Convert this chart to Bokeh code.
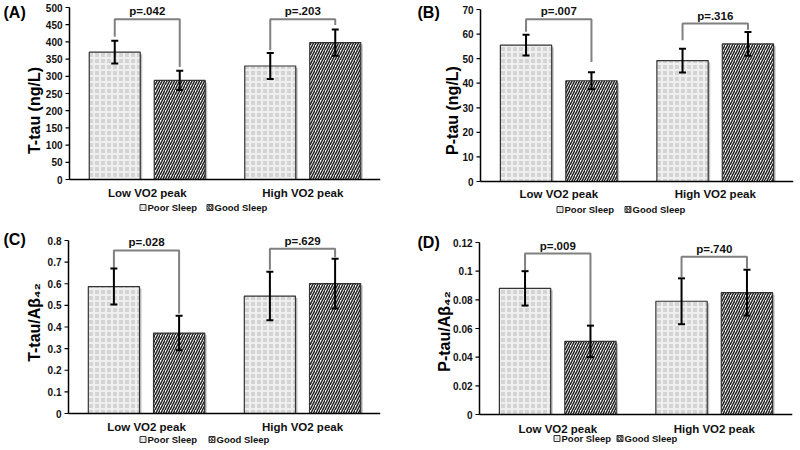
import math
from bokeh.plotting import figure
from bokeh.models import (Range1d, Whisker, TeeHead, ColumnDataSource, Label, Span)
from bokeh.core.properties import value
from bokeh.layouts import column, row
from bokeh.embed import file_html
from bokeh.resources import INLINE

categories = ["Low VO2 peak", "High VO2 peak"]
groups = ["Poor Sleep", "Good Sleep"]

# Panel A: T-tau
a_poor = [370, 330]
a_good = [288, 398]
a_poor_err = [33, 38]
a_good_err = [28, 38]
a_pvals = ["p=.042", "p=.203"]
a_bracket_top = [466, 466]
a_bracket_left = [415, 376]
a_bracket_right = [327, 449]
a_ticks = [0, 50, 100, 150, 200, 250, 300, 350, 400, 450, 500]
a_tick_labels = ["0", "50", "100", "150", "200", "250", "300", "350", "400", "450", "500"]

# Panel B: P-tau
b_poor = [55.5, 49.2]
b_good = [41.0, 56.0]
b_poor_err = [4.2, 4.8]
b_good_err = [3.5, 4.8]
b_pvals = ["p=.007", "p=.316"]
b_bracket_top = [66.0, 64.3]
b_bracket_left = [60.9, 57.5]
b_bracket_right = [48.6, 61.8]
b_ticks = [0, 10, 20, 30, 40, 50, 60, 70]
b_tick_labels = ["0", "10", "20", "30", "40", "50", "60", "70"]

# Panel C: T-tau/Abeta42
c_poor = [0.587, 0.543]
c_good = [0.372, 0.601]
c_poor_err = [0.083, 0.112]
c_good_err = [0.080, 0.115]
c_pvals = ["p=.028", "p=.629"]
c_bracket_top = [0.754, 0.762]
c_bracket_left = [0.672, 0.665]
c_bracket_right = [0.462, 0.723]
c_ticks = [0, 0.1, 0.2, 0.3, 0.4, 0.5, 0.6, 0.7, 0.8]
c_tick_labels = ["0", "0.1", "0.2", "0.3", "0.4", "0.5", "0.6", "0.7", "0.8"]

# Panel D: P-tau/Abeta42
d_poor = [0.088, 0.079]
d_good = [0.051, 0.085]
d_poor_err = [0.012, 0.016]
d_good_err = [0.011, 0.016]
d_pvals = ["p=.009", "p=.740"]
d_bracket_top = [0.1123, 0.110]
d_bracket_left = [0.1007, 0.096]
d_bracket_right = [0.0622, 0.1018]
d_ticks = [0, 0.02, 0.04, 0.06, 0.08, 0.1, 0.12]
d_tick_labels = ["0", "0.02", "0.04", "0.06", "0.08", "0.1", "0.12"]

FONT = "Liberation Sans"
BAR_W = 0.328
OFF = 0.209
W, H = 400, 225

POOR_STYLE = dict(fill_color="#d4d4d4", line_color="#333333", line_width=1.2,
                  hatch_pattern="cross", hatch_color="#efefef", hatch_scale=6,
                  hatch_weight=2)
GOOD_STYLE = dict(fill_color="white", line_color="#333333", line_width=1.2,
                  hatch_pattern="right_diagonal_line", hatch_color="#222222",
                  hatch_scale=5, hatch_weight=1.5)


def make_panel(letter, poor, good, poor_err, good_err, pvals, btop, bleft, bright,
               ticks, tick_labels, ylabel, lay):
    left, right, top, zero = lay["left"], lay["right"], lay["top"], lay["zero"]
    ymax = ticks[-1]
    ppu = (zero - top) / ymax          # pixels per y data unit
    ystart = -(H - zero) / ppu         # frame reaches canvas bottom
    yend = ymax + top / ppu            # frame reaches canvas top
    xpu = (right - left) / 2.0         # pixels per x unit
    xstart = -left / xpu               # frame reaches canvas left edge

    p = figure(width=W, height=H, title=None, x_axis_type=None, y_axis_type=None,
               x_range=Range1d(xstart, 2), y_range=Range1d(ystart, yend),
               output_backend="svg", toolbar_location=None,
               min_border_left=0, min_border_right=W - right,
               min_border_top=0, min_border_bottom=0)
    p.outline_line_color = None

    centers = [i + 0.5 for i in range(len(categories))]
    xp = [c - OFF for c in centers]
    xg = [c + OFF for c in centers]

    src_p = ColumnDataSource(dict(x=xp, top=poor,
                                  upper=[v + e for v, e in zip(poor, poor_err)],
                                  lower=[v - e for v, e in zip(poor, poor_err)]))
    src_g = ColumnDataSource(dict(x=xg, top=good,
                                  upper=[v + e for v, e in zip(good, good_err)],
                                  lower=[v - e for v, e in zip(good, good_err)]))

    # soft shadow behind the bars (2 px right / down)
    sx = 2.0 / xpu
    sy = 2.0 / ppu
    p.vbar(x=[x + sx for x in xp + xg], top=[v - sy for v in poor + good], bottom=0,
           width=BAR_W, fill_color="#9a9a9a", fill_alpha=0.6, line_color=None)

    p.vbar(x="x", top="top", bottom=0, width=BAR_W, source=src_p, **POOR_STYLE)
    p.vbar(x="x", top="top", bottom=0, width=BAR_W, source=src_g, **GOOD_STYLE)

    # x axis line at zero (from the y axis to the right edge)
    p.segment(x0=[0], y0=[0], x1=[2], y1=[0], line_color="black", line_width=1.5)

    # y axis: line, ticks, tick labels
    n = len(ticks)
    p.segment(x0=[0], y0=[0], x1=[0], y1=[ymax], line_color="black", line_width=1.5)
    p.segment(x0=[-4.0 / xpu] * n, y0=ticks, x1=[0] * n, y1=ticks,
              line_color="black", line_width=1.2)
    tsrc = ColumnDataSource(dict(x=[-7.0 / xpu] * n, y=ticks, t=tick_labels))
    p.text(x="x", y="y", text="t", source=tsrc, text_align="right",
           text_baseline="middle", text_font=value(FONT), text_font_style="bold",
           text_font_size="10px", text_color="#111111")

    # y axis title (rotated)
    p.add_layout(Label(x=(lay["ylab_x"] - left) / xpu, y=(zero - lay["ylab_y"]) / ppu,
                       text=ylabel, angle=math.pi / 2, text_align="center",
                       text_baseline="middle",
                       text_font=FONT, text_font_style="bold", text_font_size="16px",
                       text_color="black"))

    for src in (src_p, src_g):
        w = Whisker(source=src, base="x", upper="upper", lower="lower",
                    line_color="black", line_width=2, level="annotation",
                    upper_head=TeeHead(size=7, line_width=2, line_color="black"),
                    lower_head=TeeHead(size=7, line_width=2, line_color="black"))
        p.add_layout(w)

    # significance brackets
    xs = [[a, a, b, b] for a, b in zip(xp, xg)]
    ys = [[l, t, t, r] for l, t, r in zip(bleft, btop, bright)]
    p.multi_line(xs=xs, ys=ys, line_color="#808080", line_width=2)

    for a, b, t, txt in zip(xp, xg, btop, pvals):
        p.add_layout(Label(x=(a + b) / 2, y=t, text=txt, text_align="center",
                           text_baseline="bottom", y_offset=2,
                           text_font=FONT, text_font_style="bold",
                           text_font_size="11.5px", text_color="#111111"))

    # panel letter
    p.add_layout(Label(x=(lay["letter_x"] - left) / xpu, y=ymax, text="(%s)" % letter,
                       text_align="left", text_baseline="middle",
                       y_offset=lay["letter_dy"],
                       text_font=FONT, text_font_style="bold", text_font_size="16px",
                       text_color="black"))

    # category labels
    for c, name in zip(centers, categories):
        p.add_layout(Label(x=c, y=0, text=name, text_align="center",
                           text_baseline="middle", y_offset=-lay["cat_dy"],
                           text_font=FONT, text_font_style="bold",
                           text_font_size="11.5px", text_color="#111111"))

    # legend (manual)
    ly = -lay["leg_dy"] / ppu
    lx = [lay["leg_x"] / xpu, (lay["leg_x"] + lay["leg_gap"]) / xpu]
    styles = [POOR_STYLE, GOOD_STYLE]
    for x0, g, st in zip(lx, groups, styles):
        st2 = dict(st)
        st2["hatch_scale"] = 3
        st2["hatch_weight"] = 1
        st2["line_width"] = 1
        p.rect(x=[x0], y=[ly], width=6, height=6, width_units="screen",
               height_units="screen", **st2)
        p.add_layout(Label(x=x0, y=ly, text=g, text_align="left",
                           text_baseline="middle", x_offset=4.5,
                           text_font=FONT, text_font_style="bold",
                           text_font_size="9.5px", text_color="#111111"))
    return p


LAY_A = dict(left=69, right=380, top=7, zero=179, letter_x=3, letter_dy=-5,
             cat_dy=13, leg_dy=28, leg_x=73.5, leg_gap=67, ylab_x=34, ylab_y=110)
LAY_B = dict(left=80, right=393, top=9, zero=181, letter_x=17, letter_dy=-3,
             cat_dy=12, leg_dy=28, leg_x=79.5, leg_gap=68, ylab_x=52, ylab_y=110)
LAY_C = dict(left=68, right=380, top=15, zero=188, letter_x=3, letter_dy=1,
             cat_dy=13, leg_dy=26, leg_x=74.5, leg_gap=69, ylab_x=34, ylab_y=97)
LAY_D = dict(left=79, right=392, top=17, zero=189, letter_x=17, letter_dy=0,
             cat_dy=14, leg_dy=24, leg_x=77.5, leg_gap=63, ylab_x=44, ylab_y=106)

pa = make_panel("A", a_poor, a_good, a_poor_err, a_good_err, a_pvals, a_bracket_top,
                a_bracket_left, a_bracket_right, a_ticks, a_tick_labels,
                "T-tau (ng/L)", LAY_A)
pb = make_panel("B", b_poor, b_good, b_poor_err, b_good_err, b_pvals, b_bracket_top,
                b_bracket_left, b_bracket_right, b_ticks, b_tick_labels,
                "P-tau (ng/L)", LAY_B)
pc = make_panel("C", c_poor, c_good, c_poor_err, c_good_err, c_pvals, c_bracket_top,
                c_bracket_left, c_bracket_right, c_ticks, c_tick_labels,
                "T-tau/Aβ₄₂", LAY_C)
pd_ = make_panel("D", d_poor, d_good, d_poor_err, d_good_err, d_pvals, d_bracket_top,
                 d_bracket_left, d_bracket_right, d_ticks, d_tick_labels,
                 "P-tau/Aβ₄₂", LAY_D)

layout = column(row(pa, pb), row(pc, pd_))
open("out.html", "w").write(file_html(layout, INLINE))
